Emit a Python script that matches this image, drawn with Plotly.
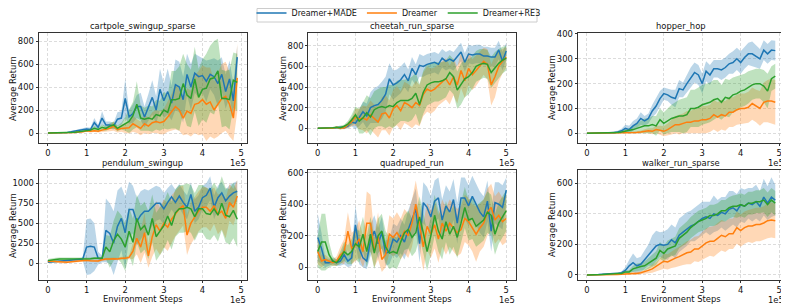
import plotly.graph_objects as go

# ---------------- data ----------------
STEPS_50 = [i * 10000 for i in range(50)]
STEPS_51 = [i * 10000 for i in range(51)]
X_TICK_VALUES = [0, 100000, 200000, 300000, 400000, 500000]
X_TICK_LABELS = ["0", "1", "2", "3", "4", "5"]
SERIES_NAMES = ["Dreamer+MADE", "Dreamer", "Dreamer+RE3"]

cartpole_made_mean = [0,0,0,0,2,5,10,15,25,30, 35,30,90,50,130,70,70,60,120,130, 300,140,170,230,230,140,220,310,200,380, 280,360,260,420,400,290,510,400,520,490, 500,450,510,490,430,510,360,470,280,660]
cartpole_made_std = [0,0,0,1,2,3,5,8,10,12, 15,15,40,20,60,30,30,30,60,60, 170,60,80,100,120,90,120,150,120,180, 150,200,150,220,220,200,180,200,170,180, 150,180,130,160,200,150,150,160,150,100]
cartpole_dreamer_mean = [0,0,0,0,0,0,2,5,8,10, 20,15,20,15,25,30,40,60,30,40, 40,45,80,60,40,80,60,90,100,90, 100,140,180,230,200,130,190,170,250,260, 290,250,270,200,250,300,320,250,130,480]
cartpole_dreamer_std = [0,0,0,0,0,0,2,4,6,8, 10,10,12,10,15,20,25,40,25,30, 40,50,70,60,60,80,70,90,100,100, 110,130,160,200,180,150,200,200,250,280, 300,320,300,250,280,300,300,280,200,300]
cartpole_re3_mean = [0,0,0,0,0,0,3,6,10,15, 20,25,40,30,50,40,60,70,40,60, 80,100,150,250,130,120,130,120,160,150, 200,180,290,290,300,430,330,300,470,310, 380,390,470,480,540,300,300,290,460,440]
cartpole_re3_std = [0,0,0,0,0,0,2,4,6,8, 10,12,20,15,25,20,25,30,25,30, 60,100,120,200,110,100,110,110,130,130, 160,150,250,250,280,260,270,250,280,250, 260,300,290,320,280,250,240,260,240,250]

cheetah_made_mean = [0,0,0,0,0,5,10,5,20,60, 50,100,160,120,200,220,230,270,330,480, 420,440,470,520,460,580,520,610,600,620, 630,640,620,680,650,670,650,700,740,640, 720,710,720,720,700,700,690,690,760,650, 750]
cheetah_made_std = [0,0,0,0,2,5,10,10,20,40, 60,80,100,120,150,170,180,180,170,150, 140,130,130,120,110,110,100,110,100,100, 100,100,100,90,90,90,90,90,90,90, 90,90,90,90,90,90,90,90,90,90, 80]
cheetah_dreamer_mean = [0,0,0,0,0,10,0,5,30,60, 110,90,100,80,130,90,60,140,150,100, 190,220,170,250,230,200,250,220,330,380, 360,380,420,450,480,420,500,420,560,460, 580,520,560,600,650,620,420,500,600,650, 690]
cheetah_dreamer_std = [0,0,0,0,2,10,10,15,30,40, 80,100,120,130,140,140,150,160,170,170, 180,190,190,200,200,200,210,200,210,220, 220,210,200,200,200,190,180,180,170,170, 160,150,150,140,130,150,200,200,150,120, 100]
cheetah_re3_mean = [0,0,0,0,5,10,5,20,40,80, 130,70,100,150,110,180,200,210,200,220, 210,250,270,270,270,290,340,230,350,420, 440,450,450,460,480,540,500,370,430,480, 500,540,600,620,630,620,540,590,630,660, 680]
cheetah_re3_std = [0,0,0,0,5,10,20,15,30,50, 80,120,150,170,180,180,180,190,200,200, 210,210,200,200,210,210,200,200,210,200, 200,190,190,180,180,170,170,180,200,180, 170,160,150,150,140,140,150,150,140,130, 120]

hopper_made_mean = [0,0,0,0,0,2,3,2,5,10, 20,15,30,40,60,50,60,90,110,140, 160,155,145,140,180,175,200,225,245,235, 200,250,235,260,260,255,265,280,285,300, 285,305,320,320,310,300,335,320,335,333]
hopper_made_std = [0,0,0,0,0,2,3,3,5,8, 15,15,20,20,25,20,20,25,30,30, 25,25,30,35,35,30,35,40,40,40, 40,40,40,35,35,40,40,40,45,45, 45,45,45,50,45,40,40,40,40,40]
hopper_dreamer_mean = [0,0,0,0,0,0,0,0,0,0, 0,2,3,3,5,8,10,8,15,12, 8,15,25,35,35,40,45,45,50,50, 55,55,60,75,65,75,70,85,85,95, 100,100,105,120,110,100,125,130,130,125]
hopper_dreamer_std = [0,0,0,0,0,1,1,2,2,3, 3,4,4,5,5,8,10,12,15,18, 20,25,30,35,40,40,45,45,50,50, 55,55,55,60,60,60,60,60,60,60, 60,60,62,65,65,70,80,85,90,90]
hopper_re3_mean = [0,0,0,0,0,0,2,3,3,5, 8,10,15,20,25,30,30,35,30,55, 40,50,60,65,70,70,75,100,100,105, 115,120,125,135,140,125,145,140,155,160, 170,175,185,195,200,200,190,170,220,230]
hopper_re3_std = [0,0,0,0,1,2,3,3,4,5, 8,10,15,20,25,30,30,35,40,45, 45,50,55,60,65,70,70,75,75,80, 80,80,80,80,75,70,75,75,70,70, 65,65,65,60,60,60,65,70,50,50]

pendulum_made_mean = [10,15,20,20,25,30,35,40,45,50, 200,210,200,60,50,410,370,250,460,560, 380,670,670,520,600,650,650,700,750,750, 680,760,830,760,840,760,700,860,650,700, 820,850,940,700,820,880,780,840,880,900]
pendulum_made_std = [5,5,10,10,10,10,15,15,15,20, 350,350,300,80,40,400,380,400,450,400, 450,350,300,300,300,280,260,240,220,200, 200,180,160,160,150,150,150,150,150,150, 150,150,150,150,150,140,140,140,130,130]
pendulum_dreamer_mean = [20,25,20,15,10,10,15,20,25,30, 35,30,30,25,40,50,50,55,50,60, 60,70,150,310,200,380,90,330,480,400, 500,450,550,620,680,720,350,500,570,650, 700,700,650,720,610,650,560,760,700,840]
pendulum_dreamer_std = [15,20,20,15,15,15,15,15,15,15, 15,15,15,15,15,15,15,15,15,20, 20,25,100,200,200,250,150,250,300,300, 300,300,300,280,280,250,250,260,260,250, 250,250,250,230,250,230,250,230,230,200]
pendulum_re3_mean = [30,40,45,50,50,50,50,50,55,50, 55,55,60,60,60,200,140,280,360,300, 200,400,260,560,420,470,350,560,330,400, 470,590,470,630,680,680,700,680,580,680, 680,620,610,680,600,750,600,580,660,550]
pendulum_re3_std = [20,20,20,20,20,20,20,15,15,15, 15,15,15,15,15,150,200,250,300,300, 300,300,300,300,300,300,300,300,300,300, 300,300,300,300,300,300,300,300,300,300, 300,320,320,330,330,340,340,350,350,350]

quadruped_made_mean = [190,120,30,30,40,30,40,80,40,60, 270,120,60,40,170,230,150,220,90,100, 180,160,200,160,240,300,370,150,410,380, 320,420,440,300,390,350,430,280,440,440, 390,450,400,350,320,420,230,410,400,380, 490]
quadruped_made_std = [150,100,30,20,20,20,30,60,40,50, 120,100,60,50,100,100,100,100,80,80, 100,100,110,110,120,130,130,120,130,130, 130,130,130,130,130,130,130,130,130,130, 130,130,130,130,130,130,130,130,140,140, 80]
quadruped_dreamer_mean = [100,40,50,40,30,40,80,100,230,120, 140,180,100,280,280,100,200,50,80,210, 190,220,180,230,200,280,400,270,130,260, 210,270,180,280,230,280,250,220,240,310, 290,250,210,250,280,350,380,300,330,290, 310]
quadruped_dreamer_std = [80,40,30,20,20,30,50,80,120,100, 100,120,100,200,180,100,150,80,80,120, 120,130,130,140,140,150,150,150,150,150, 150,150,150,150,150,150,150,150,150,150, 150,150,175,150,150,150,150,150,150,150, 150]
quadruped_re3_mean = [100,160,160,80,40,30,60,100,80,100, 150,130,210,100,210,90,200,230,130,90, 100,90,160,220,240,190,220,320,220,100, 200,330,230,180,290,210,260,190,280,380, 300,310,260,280,300,350,330,210,280,320, 360]
quadruped_re3_std = [100,180,180,80,30,20,40,60,60,80, 100,100,110,100,110,100,110,110,100,100, 100,100,110,110,120,120,120,130,130,120, 120,130,130,130,130,130,130,130,130,130, 130,130,130,130,130,130,130,130,130,130, 130]

walker_made_mean = [0,0,2,3,5,5,8,10,10,15, 30,60,80,60,70,100,130,160,190,200, 195,200,230,210,260,280,300,320,330,350, 370,380,370,400,390,410,400,430,440,420, 460,450,470,460,480,450,510,470,510,490]
walker_made_std = [0,0,2,3,5,5,5,5,5,8, 20,40,60,50,50,60,70,100,100,80, 90,100,100,100,110,110,110,100,110,110, 110,100,110,120,100,100,110,120,110,110, 110,110,100,110,110,100,120,110,130,100]
walker_dreamer_mean = [0,0,0,0,0,0,0,2,3,5, 5,8,10,10,15,20,30,40,55,70, 90,85,100,110,120,135,145,150,170,170, 190,210,220,220,240,260,250,270,270,310, 290,310,320,320,330,330,340,355,360,355]
walker_dreamer_std = [0,0,0,0,0,0,0,2,3,4, 5,6,8,8,10,12,18,25,30,40, 50,50,55,60,65,70,75,80,80,85, 90,95,95,100,100,100,100,100,100,105, 105,105,105,110,110,110,110,115,115,115]
walker_re3_mean = [0,0,0,2,3,5,5,8,10,10, 20,20,40,50,55,60,75,90,110,160, 140,170,180,190,240,260,280,310,330,350, 360,370,390,390,400,420,420,440,450,450, 460,450,470,470,480,480,490,460,490,470]
walker_re3_std = [0,0,0,2,3,4,5,5,5,5, 10,12,20,25,25,30,35,40,45,55, 50,55,60,60,65,65,70,70,70,70, 70,70,70,70,70,70,70,70,70,75, 75,75,75,75,75,75,80,80,80,80]

ENVS = [
    ("cartpole_swingup_sparse", STEPS_50,
     [(cartpole_made_mean, cartpole_made_std), (cartpole_dreamer_mean, cartpole_dreamer_std), (cartpole_re3_mean, cartpole_re3_std)],
     [-87, 870], 200),
    ("cheetah_run_sparse", STEPS_51,
     [(cheetah_made_mean, cheetah_made_std), (cheetah_dreamer_mean, cheetah_dreamer_std), (cheetah_re3_mean, cheetah_re3_std)],
     [-143, 924], 200),
    ("hopper_hop", STEPS_50,
     [(hopper_made_mean, hopper_made_std), (hopper_dreamer_mean, hopper_dreamer_std), (hopper_re3_mean, hopper_re3_std)],
     [-39, 404], 100),
    ("pendulum_swingup", STEPS_50,
     [(pendulum_made_mean, pendulum_made_std), (pendulum_dreamer_mean, pendulum_dreamer_std), (pendulum_re3_mean, pendulum_re3_std)],
     [-213, 1167], 250),
    ("quadruped_run", STEPS_51,
     [(quadruped_made_mean, quadruped_made_std), (quadruped_dreamer_mean, quadruped_dreamer_std), (quadruped_re3_mean, quadruped_re3_std)],
     [-80, 617], 200),
    ("walker_run_sparse", STEPS_50,
     [(walker_made_mean, walker_made_std), (walker_dreamer_mean, walker_dreamer_std), (walker_re3_mean, walker_re3_std)],
     [-33, 687], 200),
]

# ---------------- style ----------------
# the page body has an 8px default margin; the figure is sized to fit the window after it
OFF = 8
W, H = 789 - OFF, 307 - OFF
def xp(px):
    return (px - OFF) / W
def yp(py):
    return 1 - (py - OFF) / H

LINE_COLORS = ["#1f77b4", "#ff7f0e", "#2ca02c"]
FILL_COLORS = ["rgba(31,119,180,0.3)", "rgba(255,127,14,0.3)", "rgba(44,160,44,0.3)"]
FONT = "DejaVu Sans"
FS = 8.4
X_DOMAINS = [[xp(38.5), xp(246.7)], [xp(308.3), xp(515.7)], [xp(577.5), xp(784.7)]]
Y_DOMAINS = [[yp(143), yp(33)], [yp(280), yp(170)]]

fig = go.Figure()
annotations = []
layout_axes = {}

for k, (title, steps, series, yrange, dtick) in enumerate(ENVS):
    row, col = divmod(k, 3)
    idx = k + 1
    xa = "x" if idx == 1 else f"x{idx}"
    ya = "y" if idx == 1 else f"y{idx}"
    for s, (mean, std) in enumerate(series):
        assert len(mean) == len(steps) and len(std) == len(steps), (title, s)
        upper = [m + d for m, d in zip(mean, std)]
        lower = [m - d for m, d in zip(mean, std)]
        fig.add_trace(go.Scatter(
            x=list(steps) + list(steps)[::-1], y=upper + lower[::-1],
            fill="toself", fillcolor=FILL_COLORS[s], line=dict(width=0),
            mode="lines", hoverinfo="skip", showlegend=False, xaxis=xa, yaxis=ya))
    for s, (mean, std) in enumerate(series):
        fig.add_trace(go.Scatter(
            x=steps, y=mean, mode="lines", name=SERIES_NAMES[s],
            line=dict(color=LINE_COLORS[s], width=1.5),
            showlegend=(k == 0), legendgroup=SERIES_NAMES[s], xaxis=xa, yaxis=ya))

    xmax = steps[-1]
    pad = 0.05 * xmax
    axis_common = dict(showline=True, mirror=True, linecolor="#333333", linewidth=1,
                       ticks="outside", ticklen=2, tickcolor="#333333",
                       showgrid=True, gridcolor="#dcdcdc", griddash="3px,2px", gridwidth=0.8,
                       zeroline=False, tickfont=dict(family=FONT, size=FS, color="#111111"))
    layout_axes["xaxis" if idx == 1 else f"xaxis{idx}"] = dict(
        domain=X_DOMAINS[col], anchor=ya, range=[-pad, xmax + pad],
        tickvals=X_TICK_VALUES, ticktext=X_TICK_LABELS, **axis_common)
    layout_axes["yaxis" if idx == 1 else f"yaxis{idx}"] = dict(
        domain=Y_DOMAINS[row], anchor=xa, range=yrange, dtick=dtick, tick0=0, **axis_common)

    xd = X_DOMAINS[col]
    yd = Y_DOMAINS[row]
    xc = (xd[0] + xd[1]) / 2
    annotations.append(dict(text=title, xref="paper", yref="paper", x=xc, y=yd[1] + 7 / H,
                            xanchor="center", yanchor="middle", showarrow=False,
                            font=dict(family=FONT, size=FS, color="#111111")))
    annotations.append(dict(text="Average Return", xref="paper", yref="paper",
                            x=xd[0] - 25.5 / W, y=(yd[0] + yd[1]) / 2, textangle=-90,
                            xanchor="center", yanchor="middle", showarrow=False,
                            font=dict(family=FONT, size=FS, color="#111111")))
    annotations.append(dict(text="1e5", xref="paper", yref="paper",
                            x=xd[1] + 1 / W, y=yd[0] - 19.5 / H,
                            xanchor="right", yanchor="middle", showarrow=False,
                            font=dict(family=FONT, size=FS, color="#111111")))
    if row == 1:
        annotations.append(dict(text="Environment Steps", xref="paper", yref="paper",
                                x=xc, y=yd[0] - 19 / H,
                                xanchor="center", yanchor="middle", showarrow=False,
                                font=dict(family=FONT, size=FS, color="#111111")))

# frame drawn around the legend entries
legend_frame = dict(type="rect", xref="paper", yref="paper",
                    x0=xp(257), x1=xp(537), y0=yp(22), y1=yp(8.5),
                    line=dict(color="#cccccc", width=1), fillcolor="white", layer="above")

fig.update_layout(
    width=W, height=H,
    margin=dict(l=0, r=0, t=0, b=0, autoexpand=False),
    paper_bgcolor="white", plot_bgcolor="white",
    font=dict(family=FONT, size=FS, color="#111111"),
    showlegend=True,
    legend=dict(orientation="h", x=0.5, xanchor="center", y=1 + 9.5 / H, yanchor="top",
                borderwidth=0, bgcolor="rgba(0,0,0,0)",
                font=dict(family=FONT, size=8), itemwidth=30, tracegroupgap=0),
    shapes=[legend_frame],
    annotations=annotations,
    **layout_axes,
)

fig.write_html("out.html")
